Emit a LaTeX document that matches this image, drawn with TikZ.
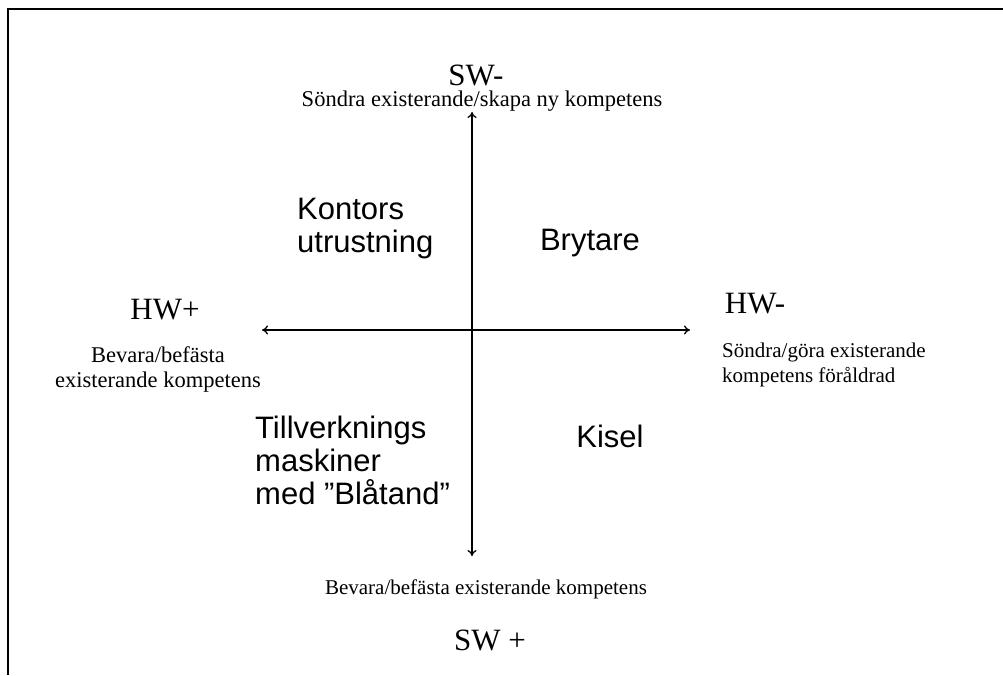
\documentclass[tikz,border=0pt]{standalone}
\usepackage{fontspec}
\setmainfont{Liberation Serif}
\newfontfamily\labelsans{Liberation Sans}
\usetikzlibrary{arrows.meta}
\begin{document}
\begin{tikzpicture}[x=1pt,y=-1pt,
  axisarrow/.style={line width=1.3pt,{To[length=6pt,width=9pt]}-{To[length=6pt,width=9pt]}},
  polelabel/.style={inner sep=0pt,font=\fontsize{31}{33}\selectfont},
  polenote/.style={inner sep=0pt,font=\fontsize{21}{24.5}\selectfont},
  widenote/.style={inner sep=0pt,font=\fontsize{22.5}{25}\selectfont},
  quadlabel/.style={inner sep=0pt,font=\labelsans\fontsize{31}{33}\selectfont}]
\useasboundingbox (0,0) rectangle (1003,675);
% open frame: top and left edges only
\draw[line width=2.2pt] (1003,9) -- (8,9) -- (8,675);

% axis end points
\coordinate (top) at (472,112);
\coordinate (bottom) at (472,556);
\coordinate (left) at (262,330);
\coordinate (right) at (690,330);
\draw[axisarrow] (top) -- (bottom);
\draw[axisarrow] (left) -- (right);

% pole labels
\node[polelabel] (swminus) at (476,75) {SW-};
\node[widenote] (swminusnote) at (482,101) {Söndra existerande/skapa ny kompetens};
\node[polelabel] (swplus) at (490,640) {SW +};
\node[polenote] (swplusnote) at (486,589) {Bevara/befästa existerande kompetens};
\node[polelabel] (hwplus) at (165,310) {HW+};
\node[widenote,align=center] (hwplusnote) at (158,369) {Bevara/befästa\\existerande kompetens};
\node[polelabel] (hwminus) at (755,304) {HW-};
\node[polenote,align=left,anchor=west] (hwminusnote) at (722,365) {Söndra/göra existerande\\kompetens föråldrad};

% quadrant labels
\node[quadlabel,align=left,anchor=west] (kontor) at (297,229) {Kontors\\utrustning};
\node[quadlabel] (brytare) at (590,243) {Brytare};
\node[quadlabel,align=left,anchor=west] (tillv) at (255,460) {Tillverknings\\maskiner\\med ”Blåtand”};
\node[quadlabel] (kisel) at (610,436) {Kisel};
\end{tikzpicture}
\end{document}
